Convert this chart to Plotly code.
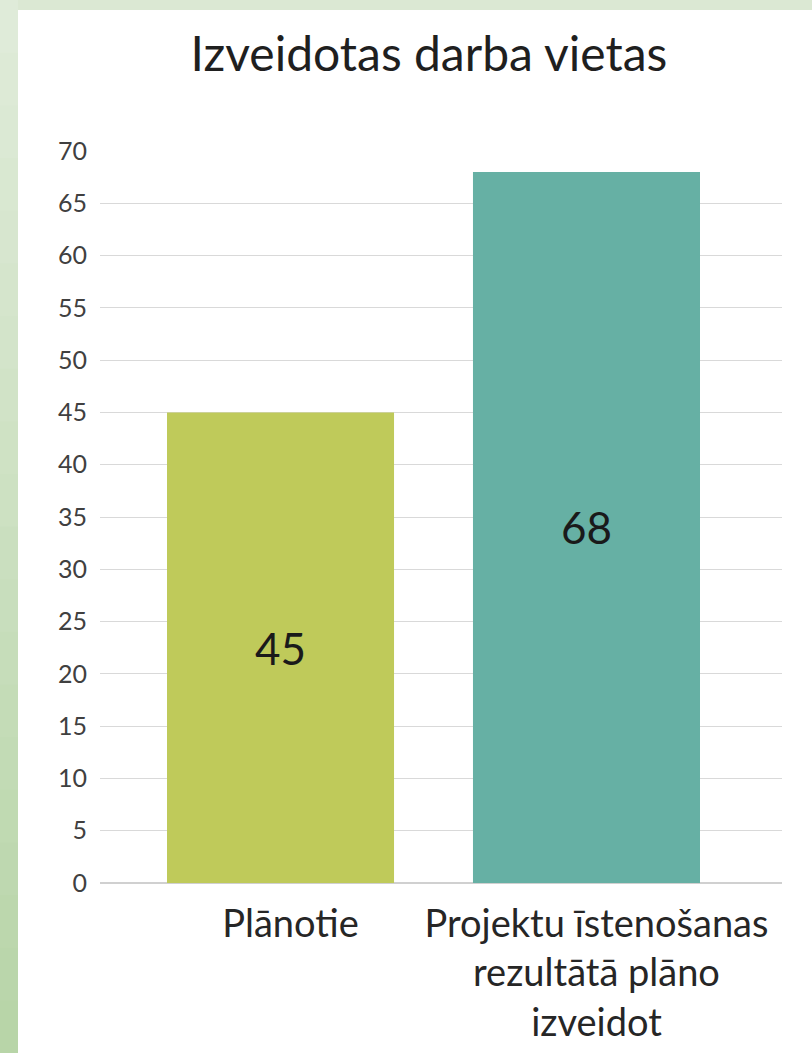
import plotly.graph_objects as go

categories = ["Plānotie", "Projektu īstenošanas<br>rezultātā plāno<br>izveidot"]
values = [45, 68]
bar_colors = ["#BFCA5A", "#66B0A4"]
title_text = "Izveidotas darba vietas"
y_ticks = list(range(0, 75, 5))

W, H = 812, 1053
ML, MR, MT, MB = 100, 30, 151, 170
PW = W - ML - MR
PH = H - MT - MB

def px_x(p):
    return (p - ML) / PW

def px_y(p):
    return (H - MB - p) / PH

fig = go.Figure()
fig.add_trace(go.Bar(
    x=[0, 1], y=values,
    marker=dict(color=bar_colors, line=dict(width=0)),
    width=0.742,
    text=[str(v) for v in values],
    textposition="inside",
    insidetextanchor="middle",
    textfont=dict(family="Lato", size=44, color="#1a1a1a"),
    hoverinfo="skip",
))

shapes = []
# green frame: top strip
shapes.append(dict(type="rect", xref="paper", yref="paper",
                   x0=px_x(0), x1=px_x(W), y0=px_y(0), y1=px_y(10),
                   fillcolor="#dbe8d3", line=dict(width=0), layer="below"))
# left strip as a vertical gradient
n = 20
c_top = (0xdf, 0xeb, 0xd9)
c_bot = (0xb8, 0xd5, 0xa8)
for i in range(n):
    t = i / (n - 1)
    c = tuple(int(round(a + (b - a) * t)) for a, b in zip(c_top, c_bot))
    y0p = H * i / n
    y1p = H * (i + 1) / n
    shapes.append(dict(type="rect", xref="paper", yref="paper",
                       x0=px_x(0), x1=px_x(18), y0=px_y(y0p), y1=px_y(y1p + 1),
                       fillcolor="rgb(%d,%d,%d)" % c, line=dict(width=0), layer="below"))

fig.update_layout(
    width=W, height=H,
    margin=dict(l=ML, r=MR, t=MT, b=MB, pad=0, autoexpand=False),
    paper_bgcolor="white",
    plot_bgcolor="white",
    showlegend=False,
    shapes=shapes,
    title=dict(text=title_text, x=429 / W, y=1 - 54 / H, xanchor="center", yanchor="middle",
               xref="container", yref="container",
               font=dict(family="Lato", size=48, color="#1f1f1f")),
)

fig.update_xaxes(
    range=[-0.590, 1.639],
    tickmode="array", tickvals=[0, 1], ticktext=categories,
    tickfont=dict(family="Lato", size=38, color="#262626"),
    showgrid=False, zeroline=False, showline=False, ticks="",
    ticklabelstandoff=15,
    ticklabelshift=10,
    automargin=False,
)
fig.update_yaxes(
    range=[0, 70],
    tickmode="array", tickvals=y_ticks, ticktext=[str(v) for v in y_ticks],
    tickfont=dict(family="Lato", size=25, color="#404040"),
    showgrid=True, gridcolor="#d9d9d9", gridwidth=1.3,
    zeroline=True, zerolinecolor="#d0d0d0", zerolinewidth=1.5,
    showline=False, ticks="",
    ticklabelstandoff=12,
    automargin=False,
)

fig.write_html("out.html", config={"displayModeBar": False},
               post_script="document.body.style.margin='0px';")
